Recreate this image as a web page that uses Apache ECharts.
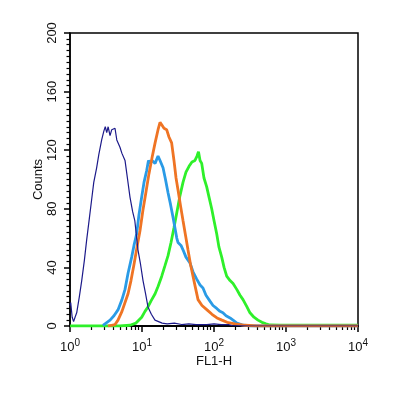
<!DOCTYPE html>
<html>
<head>
<meta charset="utf-8">
<script src="https://cdn.jsdelivr.net/npm/echarts@6/dist/echarts.min.js"></script>
<style>html,body{margin:0;padding:0;background:#fff}#c{width:393px;height:398px}</style>
</head>
<body>
<div id="c"></div>
<script>
// Fluorescence (FL1-H) values and counts
var navyX = [1.0,1.023,1.072,1.122,1.175,1.239,1.349,1.455,1.585,1.706,1.862,1.995,2.138,2.344,2.512,2.754,2.951,3.09,3.236,3.388,3.597,3.802,4.217,4.467,4.943,5.248,5.808,6.31,6.808,7.413,7.943,8.79,9.55,10.33,11.22,12.1,13.49,15.14,19.05,22.39,28.18,35.48,44.67,56.23,79.43,100,125.9,158.5,177.8,316.2,10000];
var navyY = [14,16,6,3,6,9,20,31,45,59,74,86,98,108,117,127,133,136,132,136,130,134,135,127,122,118,113,100,88,78,72,52,42,31,22,13,8,4,2,1.5,2,1,1.5,1,1,1.5,1,1,0.3,0,0];

var blueX = [2.87,3.6,4.08,4.64,5.27,5.81,6.4,7.19,7.74,8.44,9.08,9.9,10.66,11.6,12.3,12.9,13.8,15.2,16.7,17.8,19.6,21.2,23.0,24.9,27.0,30.4,31.6,34.8,37.1,40.8,46.4,51.1,57.5,64,70.3,77.4,87.9,96.9,109,121,133,147,167,184,208,245,316,10000];
var blueY = [0.5,4,7,11,18,25,36,47,55,63,76,88,98,106,113,111,113,111,116,113,108,100,91,83,74,60,57,55,52,47,43,37,32,28,26,21,17,14,12,10,9,7,5.5,4,2,0.8,0,0];

var orangeX = [3.37,4.22,4.64,5.27,5.81,6.4,7.03,7.74,8.53,9.38,10.3,11.4,12.5,13.8,15.2,16.7,17.8,19.0,20.2,22.0,23.7,25.8,27.8,29.7,31.6,34.3,37.1,40.2,43.5,47.2,51.1,55.3,60,68.1,80,93.8,110,129,152,196,270,395,10000];
var orangeY = [0,1,4,10,16,22,31,42,54,65,79,92,104,115,125,134,139,137,135,134,129,125,113,101,93,82,72,62,52,42,34,26,18,14,11,8,5.5,4,2.5,1.5,0.5,0,0];

var greenX = [1.0,4.94,6.81,8.25,9.9,11.0,12.1,13.3,15.2,16.7,18.8,20.8,23.0,25.3,27.8,30.6,33.7,37.1,40.8,45.0,49.4,54.4,58.1,60.9,64,67.5,72.6,79.2,85.3,92.9,100,109,117,128,138,150,167,184,207,230,253,287,316,359,408,464,527,600,826,10000];
var greenY = [0,0,0.5,2,6,10,13,17,22,27,34,41,48,57,67,78,89,98,105,109,112,113,116,119,113,111,101,95,88,80,72,63,54,47,40,34,31,29,25,21,18,13,9,6,4,2.5,1.5,0.7,0.5,0.5];

var xTicks = [1, 10, 100, 1000, 10000];
var yTicks = [0, 40, 80, 120, 160, 200];
var minorMultipliers = [2, 3, 4, 5, 6, 7, 8, 9];

function pairs(xs, ys) { return xs.map(function (x, i) { return [x, ys[i]]; }); }
// minor tick positions of the log axis (2..9 in each decade), in decades for a helper axis
var minorDecades = [];
for (var t = 0; t < xTicks.length - 1; t++) {
  minorMultipliers.forEach(function (m) { minorDecades.push(Math.log10(m * xTicks[t])); });
}

var chart = echarts.init(document.getElementById('c'));
var font = 'Liberation Sans, Arial, Helvetica, sans-serif';
chart.setOption({
  animation: false,
  grid: { left: 70, right: 35, top: 33, bottom: 72, show: true, borderColor: '#000', borderWidth: 1.5, backgroundColor: 'transparent', outerBoundsMode: 'none' },
  xAxis: [{
    type: 'log', logBase: 10, min: xTicks[0], max: xTicks[xTicks.length - 1],
    position: 'bottom',
    name: 'FL1-H', nameLocation: 'middle', nameGap: 29, nameMoveOverlap: false,
    nameTextStyle: { color: '#111', fontSize: 13, fontFamily: font },
    axisLine: { show: true, onZero: false, lineStyle: { color: '#000', width: 1.5 } },
    axisTick: { show: true, inside: false, length: 6, lineStyle: { color: '#000', width: 1.5 } },
    splitLine: { show: false },
    minorSplitLine: { show: false },
    axisLabel: {
      margin: 12, color: '#111', fontFamily: font,
      formatter: function (v) { return '{b|10}{s|' + Math.round(Math.log10(v)) + '}'; },
      rich: {
        b: { fontSize: 13, fontFamily: font, color: '#111' },
        s: { fontSize: 10, fontFamily: font, color: '#111', padding: [0, 0, 9, 0] }
      }
    }
  }, {
    // helper axis on the top edge, pulled down onto the bottom line, carrying the minor ticks
    type: 'value', min: 0, max: 4,
    position: 'top', offset: -293,
    axisLine: { show: true, onZero: false, lineStyle: { color: '#000', width: 1.5 } },
    axisLabel: { show: true, customValues: minorDecades, formatter: function () { return ''; } },
    splitLine: { show: false },
    axisTick: { show: true, inside: true, length: 4, customValues: minorDecades, lineStyle: { color: '#000', width: 1.2 } }
  }],
  yAxis: {
    type: 'value', min: yTicks[0], max: yTicks[yTicks.length - 1], interval: 40,
    name: 'Counts', nameLocation: 'middle', nameGap: 25, nameRotate: 90, nameMoveOverlap: false,
    nameTextStyle: { color: '#111', fontSize: 13, fontFamily: font },
    axisLine: { show: true, lineStyle: { color: '#000', width: 1.5 } },
    axisTick: { show: true, length: 6, lineStyle: { color: '#000', width: 1.5 } },
    minorTick: { show: true, splitNumber: 10, length: 3.5, lineStyle: { color: '#000', width: 1.2 } },
    splitLine: { show: false },
    axisLabel: { rotate: 90, margin: 11, color: '#111', fontSize: 13, fontFamily: font }
  },
  series: [
    { type: 'line', xAxisIndex: 0, data: pairs(navyX, navyY), showSymbol: false, symbol: 'none', lineStyle: { color: '#1c1a8a', width: 1.2 }, z: 5 },
    { type: 'line', xAxisIndex: 0, data: pairs(greenX, greenY), showSymbol: false, symbol: 'none', lineStyle: { color: '#2ef02a', width: 2.8 }, z: 2 },
    { type: 'line', xAxisIndex: 0, data: pairs(blueX, blueY), showSymbol: false, symbol: 'none', lineStyle: { color: '#2a9be6', width: 2.8 }, z: 3 },
    { type: 'line', xAxisIndex: 0, data: pairs(orangeX, orangeY), showSymbol: false, symbol: 'none', lineStyle: { color: '#ef7424', width: 2.8 }, z: 4 }
  ]
});
</script>
</body>
</html>
